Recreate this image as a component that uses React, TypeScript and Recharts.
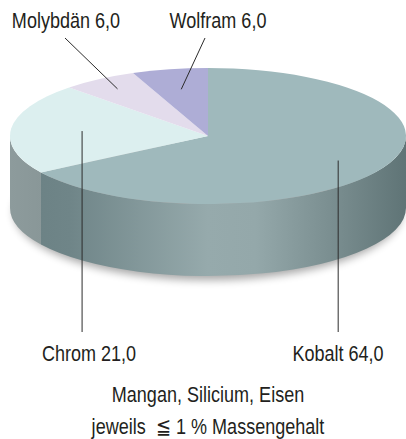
import React from 'react'
import { PieChart, Pie, Cell } from 'recharts'

// Massengehalt in % (rest: Mangan, Silicium, Eisen je <= 1 %)
const names = ['Kobalt', 'Chrom', 'Molybdän', 'Wolfram']
const values = [64, 21, 6, 6]

const data = names.map((name, i) => ({ name, value: values[i] }))

const TOP_COLORS = ['#9fb9bc', '#dcefef', '#e3dcec', '#aeadd6']
const SIDE_COLORS = ['url(#sideKobalt)', 'url(#sideChrom)', '#c4bed4', '#9594c0']

// leader line: radius fraction on the top face, end point, text anchor
const LABELS = [
  { frac: 0.75, end: [null, 332], text: [338, 361] },
  { frac: 0.64, end: [null, 332], text: [89, 361] },
  { frac: 0.83, end: [65, 38], text: [66, 28] },
  { frac: 0.7, end: [205, 38], text: [218, 28] },
]

const W = 406
const H = 439
const CX = 208
const CY = 136
const R = 198
const RY = 68
const DEPTH = 72
const FONT = "'Liberation Sans', Arial, sans-serif"
const TEXT_COLOR = '#231f20'

const RAD = Math.PI / 180
const pt = (cx: number, cy: number, a: number, f = 1) => [
  cx + R * f * Math.cos(a * RAD),
  cy - RY * f * Math.sin(a * RAD),
]

const fmt = (v: number) => v.toFixed(1).replace('.', ',')

// condensed look: regular sans squeezed horizontally
function NarrowText({ x, y, size = 22, children }: { x: number; y: number; size?: number; children: React.ReactNode }) {
  return (
    <text
      transform={`translate(${x},${y}) scale(0.82,1)`}
      textAnchor="middle"
      fontFamily={FONT}
      fontSize={size}
      fill={TEXT_COLOR}
      style={{ whiteSpace: 'pre' }}
    >
      {children}
    </text>
  )
}

function Slice3D(props: any) {
  const { cx, cy, startAngle, endAngle, midAngle, index, name, value } = props
  const s = startAngle
  const e = endAngle
  const [x1, y1] = pt(cx, cy, s)
  const [x2, y2] = pt(cx, cy, e)
  const large = Math.abs(s - e) > 180 ? 1 : 0
  const top = `M${cx},${cy} L${x1},${y1} A${R},${RY} 0 ${large} 1 ${x2},${y2} Z`

  // visible wall: front half of the ellipse, angles -180..0
  const a1 = Math.min(s, 0)
  const a2 = Math.max(e, -180)
  let side = null
  if (a1 > a2) {
    const [sx1, sy1] = pt(cx, cy, a1)
    const [sx2, sy2] = pt(cx, cy, a2)
    side = `M${sx1},${sy1} A${R},${RY} 0 0 1 ${sx2},${sy2} L${sx2},${sy2 + DEPTH} A${R},${RY} 0 0 0 ${sx1},${sy1 + DEPTH} Z`
  }

  const lay = LABELS[index]
  const [ix, iy] = pt(cx, cy, midAngle, lay.frac)
  const ex = lay.end[0] ?? ix
  const ey = lay.end[1]

  return (
    <g>
      {index === 0 && (
        <>
          <defs>
            <linearGradient id="sideKobalt" gradientUnits="userSpaceOnUse" x1={cx - R} y1={0} x2={cx + R} y2={0}>
              <stop offset="0" stopColor="#6a8083" />
              <stop offset="0.15" stopColor="#6f8588" />
              <stop offset="0.5" stopColor="#96aaac" />
              <stop offset="0.62" stopColor="#94a8aa" />
              <stop offset="0.85" stopColor="#75898b" />
              <stop offset="1" stopColor="#5f7476" />
            </linearGradient>
            <linearGradient id="sideChrom" gradientUnits="userSpaceOnUse" x1={cx - R} y1={0} x2={cx - R + 32} y2={0}>
              <stop offset="0" stopColor="#8d9b9c" />
              <stop offset="1" stopColor="#899798" />
            </linearGradient>
            <filter id="shadowBlur" x="-10%" y="-30%" width="120%" height="160%">
              <feGaussianBlur stdDeviation="4" />
            </filter>
          </defs>
          <ellipse cx={cx} cy={cy + DEPTH + 4} rx={R - 4} ry={RY} fill="#000" opacity={0.35} filter="url(#shadowBlur)" />
        </>
      )}
      {side && <path d={side} fill={SIDE_COLORS[index]} />}
      <path d={top} fill={TOP_COLORS[index]} />
      <line x1={ix} y1={iy} x2={ex} y2={ey} stroke="#2b2b2b" strokeWidth={1} />
      <NarrowText x={lay.text[0]} y={lay.text[1]}>{`${name} ${fmt(value)}`}</NarrowText>
    </g>
  )
}

export default function App() {
  return (
    <div style={{ position: 'absolute', left: 0, top: 0, width: W, height: H, background: '#fff' }}>
      <PieChart width={W} height={H} margin={{ top: 0, right: 0, bottom: 0, left: 0 }}>
        <Pie
          data={data}
          dataKey="value"
          nameKey="name"
          cx={CX}
          cy={CY}
          outerRadius={R}
          startAngle={90}
          endAngle={-270}
          stroke="none"
          label={Slice3D}
          labelLine={false}
          isAnimationActive={false}
        >
          {data.map((d) => (
            <Cell key={d.name} fill="none" />
          ))}
        </Pie>
      </PieChart>
      <svg width={W} height={60} style={{ position: 'absolute', left: 0, top: 379 }}>
        <NarrowText x={208} y={23}>Mangan, Silicium, Eisen</NarrowText>
        <NarrowText x={208} y={55}>{'jeweils  ≦ 1 % Massengehalt'}</NarrowText>
      </svg>
    </div>
  )
}
